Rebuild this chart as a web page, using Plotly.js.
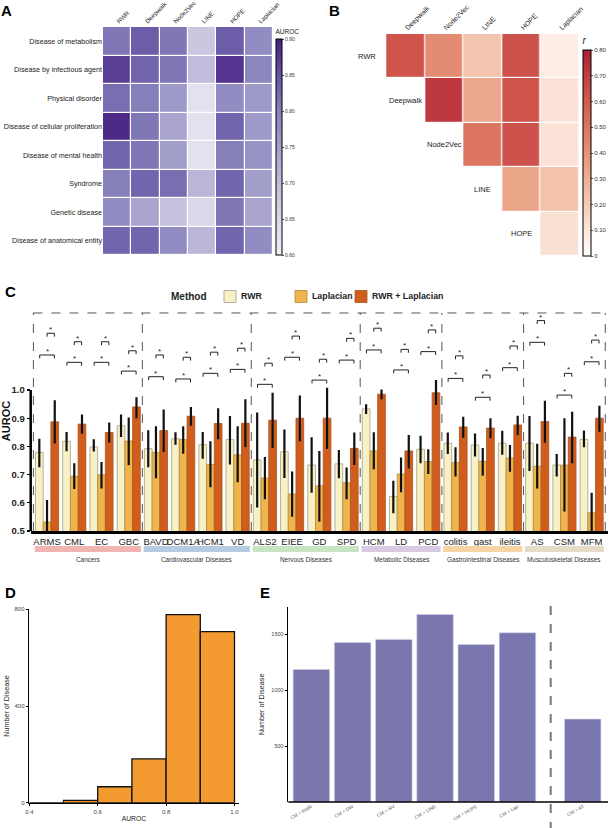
<!DOCTYPE html>
<html><head><meta charset="utf-8">
<script src="https://cdn.plot.ly/plotly-3.0.1.min.js"></script>
<style>html,body{margin:0;padding:0;background:#fff;}#chart{width:611px;height:828px;}</style>
</head><body><div id="chart"></div>
<script>
// ---------- Panel A data ----------
const aMethods = ['RWR','Deepwalk','Node2Vec','LINE','HOPE','Laplacian'];
const aDiseases = ['Disease of metabolism','Disease by infectious agent','Physical disorder','Disease of cellular proliferation','Disease of mental health','Syndrome','Genetic disease','Disease of anatomical entity'];
const aAUROC = [
  [0.81,0.84,0.81,0.68,0.84,0.78],
  [0.87,0.83,0.81,0.70,0.88,0.79],
  [0.82,0.80,0.76,0.63,0.78,0.76],
  [0.89,0.81,0.74,0.63,0.83,0.76],
  [0.83,0.81,0.75,0.63,0.80,0.77],
  [0.80,0.83,0.82,0.71,0.83,0.75],
  [0.78,0.74,0.69,0.65,0.81,0.74],
  [0.83,0.83,0.78,0.71,0.83,0.78]
];
// ---------- Panel B data ----------
const bRows = ['RWR','Deepwalk','Node2Vec','LINE','HOPE'];
const bCols = ['Deepwalk','Node2Vec','LINE','HOPE','Laplacian'];
const bCorr = [
  [0.62,0.42,0.22,0.63,0.07],
  [null,0.72,0.32,0.62,0.11],
  [null,null,0.50,0.63,0.11],
  [null,null,null,0.33,0.23],
  [null,null,null,null,0.12]
];
// ---------- Panel C data ----------
const cDiseases = ['ARMS','CML','EC','GBC','BAVD','DCM1A','HCM1','VD','ALS2','EIEE','GD','SPD','HCM','LD','PCD','colitis','gast','ileitis','AS','CSM','MFM'];
const cGroups = ['Cancers','Cardiovascular Diseases','Nervous Diseases','Metabolic Diseases','Gastrointestinal Diseases','Musculoskeletal Diseases'];
const cGroupSize = [4,4,4,3,3,3];
const cGroupColors = ['#f2b4b1','#b4cbe2','#c9e4c3','#d9cae3','#f6d4a5','#e5dbc6'];
const cMethods = ['RWR','Laplacian','RWR + Laplacian'];
const cRWR    = [0.779,0.818,0.798,0.873,0.792,0.827,0.806,0.824,0.752,0.781,0.734,0.738,0.933,0.622,0.790,0.811,0.805,0.811,0.811,0.734,0.825];
const cRWRLo  = [0.726,0.783,0.782,0.833,0.726,0.806,0.756,0.736,0.583,0.688,0.636,0.687,0.915,0.563,0.740,0.773,0.764,0.770,0.713,0.693,0.797];
const cRWRHi  = [0.827,0.851,0.825,0.913,0.857,0.850,0.851,0.908,0.920,0.860,0.832,0.787,0.949,0.678,0.838,0.849,0.846,0.855,0.908,0.773,0.856];
const cLap    = [0.532,0.694,0.699,0.819,0.779,0.824,0.736,0.770,0.688,0.631,0.660,0.671,0.784,0.702,0.746,0.743,0.747,0.759,0.730,0.734,0.565];
const cLapLo  = [0.470,0.649,0.651,0.733,0.687,0.774,0.655,0.673,0.613,0.551,0.533,0.613,0.719,0.637,0.702,0.693,0.696,0.710,0.651,0.569,0.490];
const cLapHi  = [0.610,0.740,0.745,0.902,0.871,0.871,0.818,0.871,0.762,0.711,0.784,0.725,0.850,0.761,0.790,0.797,0.794,0.805,0.809,0.900,0.636];
const cBoth   = [0.887,0.879,0.849,0.940,0.856,0.907,0.881,0.882,0.893,0.900,0.900,0.793,0.985,0.784,0.990,0.869,0.865,0.876,0.888,0.833,0.900];
const cBothLo = [0.810,0.845,0.813,0.900,0.780,0.873,0.825,0.798,0.794,0.818,0.791,0.734,0.967,0.722,0.947,0.831,0.829,0.840,0.813,0.740,0.852];
const cBothHi = [0.964,0.913,0.885,0.974,0.931,0.940,0.935,0.967,0.990,0.980,1.008,0.849,1.002,0.840,1.035,0.905,0.900,0.909,0.962,0.923,0.944];
const cSigRWR = [1.124,1.098,1.098,1.067,1.047,1.039,1.059,1.073,1.020,1.116,1.035,1.106,1.142,1.071,1.136,1.041,0.974,1.079,1.169,0.982,1.100];
const cSigLap = [1.201,1.171,1.171,1.139,1.124,1.116,1.134,1.148,1.095,1.191,1.109,1.183,1.219,1.144,1.213,1.121,1.053,1.156,1.246,1.059,1.177];
// ---------- Panel D data ----------
const dBinStart = [0.4,0.5,0.6,0.7,0.8,0.9];
const dCounts = [0,10,66,181,778,708];
// ---------- Panel E data ----------
const eLabels = ['CM > RWR','CM > DW','CM > NV','CM > LINE','CM > HOPE','CM > Lap'];
const eCounts = [1185,1426,1453,1676,1408,1512];
const eAllLabel = ['CM > All'];
const eAllCount = [741];

const W = 611, H = 828;
const px = v => v / W;
const py = v => 1 - v / H;
const FONT = 'Liberation Sans, Arial, Helvetica, sans-serif';

const traces = [];
// Panel A heatmap
traces.push({
  type:'heatmap', x:aMethods, y:aDiseases, z:aAUROC, xaxis:'x', yaxis:'y',
  zmin:0.6, zmax:0.9, xgap:1.2, ygap:1.2, hoverinfo:'skip',
  colorscale:[[0,'#f1eff7'],[0.1667,'#dbd8ea'],[0.3333,'#c0bcdb'],[0.5,'#a39fcb'],[0.6667,'#8580ba'],[0.8333,'#6753a4'],[1,'#45207f']],
  colorbar:{x:px(276), xanchor:'left', xpad:0, ypad:0, thickness:6, lenmode:'pixels', len:228, y:py(141), yanchor:'middle',
    outlinecolor:'#000', outlinewidth:1, ticks:'outside', ticklen:2, tickcolor:'#555',
    tickvals:[0.6,0.65,0.7,0.75,0.8,0.85,0.9], ticktext:['0.60','0.65','0.70','0.75','0.80','0.85','0.90'],
    tickfont:{size:5, color:'#333', family:FONT},
    title:{text:'AUROC', side:'top', font:{size:6.5, color:'#222', family:FONT}}}
});
// Panel B heatmap
traces.push({
  type:'heatmap', x:bCols, y:bRows, z:bCorr, xaxis:'x2', yaxis:'y2',
  zmin:0, zmax:0.8, xgap:1.2, ygap:1.2, hoverinfo:'skip',
  colorscale:[[0,'#ffffff'],[0.125,'#fbe5da'],[0.25,'#f5cbb5'],[0.375,'#eeae92'],[0.5,'#e69276'],[0.625,'#dd7660'],[0.75,'#d15a4f'],[0.875,'#c23e42'],[1,'#a81e34']],
  colorbar:{x:px(583), xanchor:'left', xpad:0, ypad:0, thickness:8, lenmode:'pixels', len:222, y:py(145), yanchor:'middle',
    outlinecolor:'#000', outlinewidth:1, ticks:'outside', ticklen:2, tickcolor:'#555',
    tickvals:[0,0.1,0.2,0.3,0.4,0.5,0.6,0.7,0.8], ticktext:['0','0.10','0.20','0.30','0.40','0.50','0.60','0.70','0.80'],
    tickfont:{size:6, color:'#333', family:FONT},
    title:{text:'<i>r</i>', side:'top', font:{size:10, color:'#222', family:FONT}}}
});
// Panel C bars
const diff = (a,b) => a.map((v,i)=>v-b[i]);
const cSeries = [
  {name:cMethods[0], v:cRWR, lo:cRWRLo, hi:cRWRHi, color:'#f8f1c6', line:'#a59f84'},
  {name:cMethods[1], v:cLap, lo:cLapLo, hi:cLapHi, color:'#efb54c', line:'#b38a3d'},
  {name:cMethods[2], v:cBoth, lo:cBothLo, hi:cBothHi, color:'#d15d1c', line:'#a9541f'}
];
cSeries.forEach(s => {
  traces.push({
    type:'bar', name:s.name, x:cDiseases, y:s.v, xaxis:'x3', yaxis:'y3', showlegend:false,
    marker:{color:s.color, line:{color:s.line, width:0.8}},
    error_y:{type:'data', symmetric:false, array:diff(s.hi,s.v), arrayminus:diff(s.v,s.lo), color:'#111', thickness:2.2, width:0},
    hoverinfo:'skip'
  });
});
// Panel D histogram bars
traces.push({type:'bar', x:dBinStart, y:dCounts, offset:0, width:0.1, xaxis:'x4', yaxis:'y4',
  marker:{color:'#f39a31', line:{color:'#111', width:1.3}}, showlegend:false, hoverinfo:'skip'});
// Panel E bars
traces.push({type:'bar', x:eLabels, y:eCounts, width:0.886, xaxis:'x5', yaxis:'y5',
  marker:{color:'#7a76ae', line:{color:'#d8d6ea', width:0.6}}, showlegend:false, hoverinfo:'skip'});
traces.push({type:'bar', x:eAllLabel, y:eAllCount, width:0.886, xaxis:'x6', yaxis:'y5',
  marker:{color:'#7a76ae', line:{color:'#d8d6ea', width:0.6}}, showlegend:false, hoverinfo:'skip'});

const shapes = [];
const annotations = [];
// Panel C legend (drawn manually for exact placement)
annotations.push({xref:'paper', yref:'paper', x:px(189), y:py(296.5), text:'<b>Method</b>', showarrow:false, xanchor:'center', yanchor:'middle', font:{size:10, color:'#222', family:FONT}});
const legSw = [224, 295, 355];
cSeries.forEach((s,k) => {
  shapes.push({type:'rect', xref:'paper', yref:'paper', x0:px(legSw[k]), x1:px(legSw[k]+12), y0:py(302.5), y1:py(290.5), fillcolor:s.color, line:{color:s.line, width:0.8}});
  annotations.push({xref:'paper', yref:'paper', x:px(legSw[k]+15), y:py(296.5), text:'<b>'+s.name+'</b>', showarrow:false, xanchor:'left', yanchor:'middle', font:{size:8.8, color:'#222', family:FONT}});
});
// Panel C: dashed group boxes and category bands
const C_TOP = 1.273;
let start = 0;
const bounds = [-0.5];
cGroupSize.forEach((n,g) => {
  const first = start, last = start + n - 1;
  bounds.push(last + 0.5);
  shapes.push({type:'rect', xref:'x3', yref:'paper', x0:first-0.45, x1:last+0.45, y0:py(552), y1:py(546), fillcolor:cGroupColors[g], line:{width:0}});
  annotations.push({xref:'x3', yref:'paper', x:(first+last)/2, y:py(559.5), text:cGroups[g], showarrow:false, yanchor:'middle', font:{size:6.4, color:'#333', family:FONT}});
  start += n;
});
bounds.forEach(b => shapes.push({type:'line', xref:'x3', yref:'y3', x0:b, x1:b, y0:0.5, y1:C_TOP, line:{color:'#555', width:1, dash:'dash'}}));
shapes.push({type:'line', xref:'x3', yref:'y3', x0:-0.5, x1:20.5, y0:C_TOP, y1:C_TOP, line:{color:'#555', width:1, dash:'dash'}});
// y axis line 0.5..1.0
shapes.push({type:'line', xref:'paper', yref:'y3', x0:px(30.7), x1:px(30.7), y0:0.5, y1:1.0, line:{color:'#000', width:2.5}});
// significance brackets
const OFF = 0.27, DROP = 0.012;
function bracket(xa, xb, yv){
  shapes.push({type:'line', xref:'x3', yref:'y3', x0:xa, x1:xb, y0:yv, y1:yv, line:{color:'#222', width:1}});
  shapes.push({type:'line', xref:'x3', yref:'y3', x0:xa, x1:xa, y0:yv-DROP, y1:yv, line:{color:'#222', width:1}});
  shapes.push({type:'line', xref:'x3', yref:'y3', x0:xb, x1:xb, y0:yv-DROP, y1:yv, line:{color:'#222', width:1}});
  annotations.push({xref:'x3', yref:'y3', x:(xa+xb)/2, y:yv, text:'*', showarrow:false, yanchor:'bottom', yshift:-3, font:{size:8, color:'#222', family:FONT}});
}
cDiseases.forEach((d,i) => {
  bracket(i-OFF, i+OFF, cSigRWR[i]);
  bracket(i, i+OFF, cSigLap[i]);
});
// Panel B row labels on diagonal
bRows.forEach((r,i) => annotations.push({xref:'x2', yref:'y2', x:i-1, y:i, text:r, showarrow:false, font:{size:7.5, color:'#222', family:FONT}}));
// Panel E axis line and dashed separator
shapes.push({type:'line', xref:'paper', yref:'paper', x0:px(288.3), x1:px(608), y0:py(802), y1:py(802), line:{color:'#000', width:1.6}});
shapes.push({type:'line', xref:'paper', yref:'paper', x0:px(550.7), x1:px(550.7), y0:py(606), y1:py(828), line:{color:'#777', width:2, dash:'dash'}});
// Panel letters
[['A',6,11],['B',334,10],['C',10,291],['D',10,592],['E',265,592]].forEach(p =>
  annotations.push({xref:'paper', yref:'paper', x:px(p[1]), y:py(p[2]), text:'<b>'+p[0]+'</b>', showarrow:false, xanchor:'center', yanchor:'middle', font:{size:15, color:'#000', family:FONT}}));

const layout = {
  width:W, height:H, margin:{l:0,r:0,t:0,b:0}, paper_bgcolor:'#fff', plot_bgcolor:'rgba(0,0,0,0)',
  font:{family:FONT, color:'#222'},
  barmode:'group', bargap:0.15, bargroupgap:0,
  showlegend:false,
  xaxis:{domain:[px(103),px(273)], anchor:'y', side:'top', tickangle:-45, tickfont:{size:6.2, color:'#222'}, ticks:'', showgrid:false, zeroline:false, showline:false},
  yaxis:{domain:[py(255),py(27)], anchor:'x', autorange:'reversed', tickfont:{size:7.2, color:'#222'}, ticks:'', showgrid:false, zeroline:false, showline:false},
  xaxis2:{domain:[px(356),px(579)], anchor:'y2', side:'top', tickangle:-45, tickfont:{size:7, color:'#222'}, ticks:'', showgrid:false, zeroline:false, showline:false},
  yaxis2:{domain:[py(256),py(34)], anchor:'x2', autorange:'reversed', showticklabels:false, ticks:'', showgrid:false, zeroline:false, showline:false},
  xaxis3:{domain:[px(30.7),px(608)], anchor:'y3', type:'category', range:[-0.6,20.6], tickangle:0, tickfont:{size:9.5, color:'#222'}, ticks:'', showgrid:false, zeroline:false, showline:true, linecolor:'#000', linewidth:2.5},
  yaxis3:{domain:[py(531),py(311)], anchor:'x3', range:[0.5,1.28], tickvals:[0.5,0.6,0.7,0.8,0.9,1.0], ticktext:['0.5','0.6','0.7','0.8','0.9','1.0'],
    tickfont:{size:9.5, color:'#222', weight:'bold'}, ticks:'outside', ticklen:3, tickwidth:1.2, tickcolor:'#000', showgrid:false, zeroline:false, showline:false,
    title:{text:'<b>AUROC</b>', font:{size:11, color:'#111'}, standoff:4}},
  xaxis4:{domain:[px(29.3),px(238.6)], anchor:'y4', range:[0.4,1.012], tickvals:[0.4,0.6,0.8,1.0], ticktext:['0.4','0.6','0.8','1.0'],
    tickfont:{size:6, color:'#444'}, ticks:'outside', ticklen:2, tickcolor:'#000', showgrid:false, zeroline:false, showline:true, linecolor:'#000', linewidth:1.6,
    title:{text:'AUROC', font:{size:6.8, color:'#222'}, standoff:3}},
  yaxis4:{domain:[py(802.7),py(609.3)], anchor:'x4', range:[0,800], tickvals:[0,400,800], tickfont:{size:6, color:'#444'}, ticks:'outside', ticklen:2, tickcolor:'#000',
    showgrid:false, zeroline:false, showline:true, linecolor:'#000', linewidth:1.6,
    title:{text:'Number of Disease', font:{size:7.2, color:'#222'}, standoff:4}},
  xaxis5:{domain:[px(288.3),px(538.1)], anchor:'y5', type:'category', range:[-0.56,5.5], tickangle:-30, tickfont:{size:4.8, color:'#555'}, ticks:'', showgrid:false, zeroline:false, showline:false},
  xaxis6:{domain:[px(562.1),px(603.3)], anchor:'y5', type:'category', range:[-0.5,0.5], tickangle:-30, tickfont:{size:4.8, color:'#555'}, ticks:'', showgrid:false, zeroline:false, showline:false},
  yaxis5:{domain:[py(802),py(606.7)], anchor:'x5', range:[0,1745], tickvals:[500,1000,1500], tickfont:{size:5.5, color:'#444'}, ticks:'outside', ticklen:2, tickcolor:'#000',
    showgrid:false, zeroline:false, showline:true, linecolor:'#000', linewidth:1.6,
    title:{text:'Number of Disease', font:{size:7.2, color:'#222'}, standoff:6}},
  shapes:shapes, annotations:annotations
};
Plotly.newPlot('chart', traces, layout, {displayModeBar:false, staticPlot:true});
</script></body></html>
